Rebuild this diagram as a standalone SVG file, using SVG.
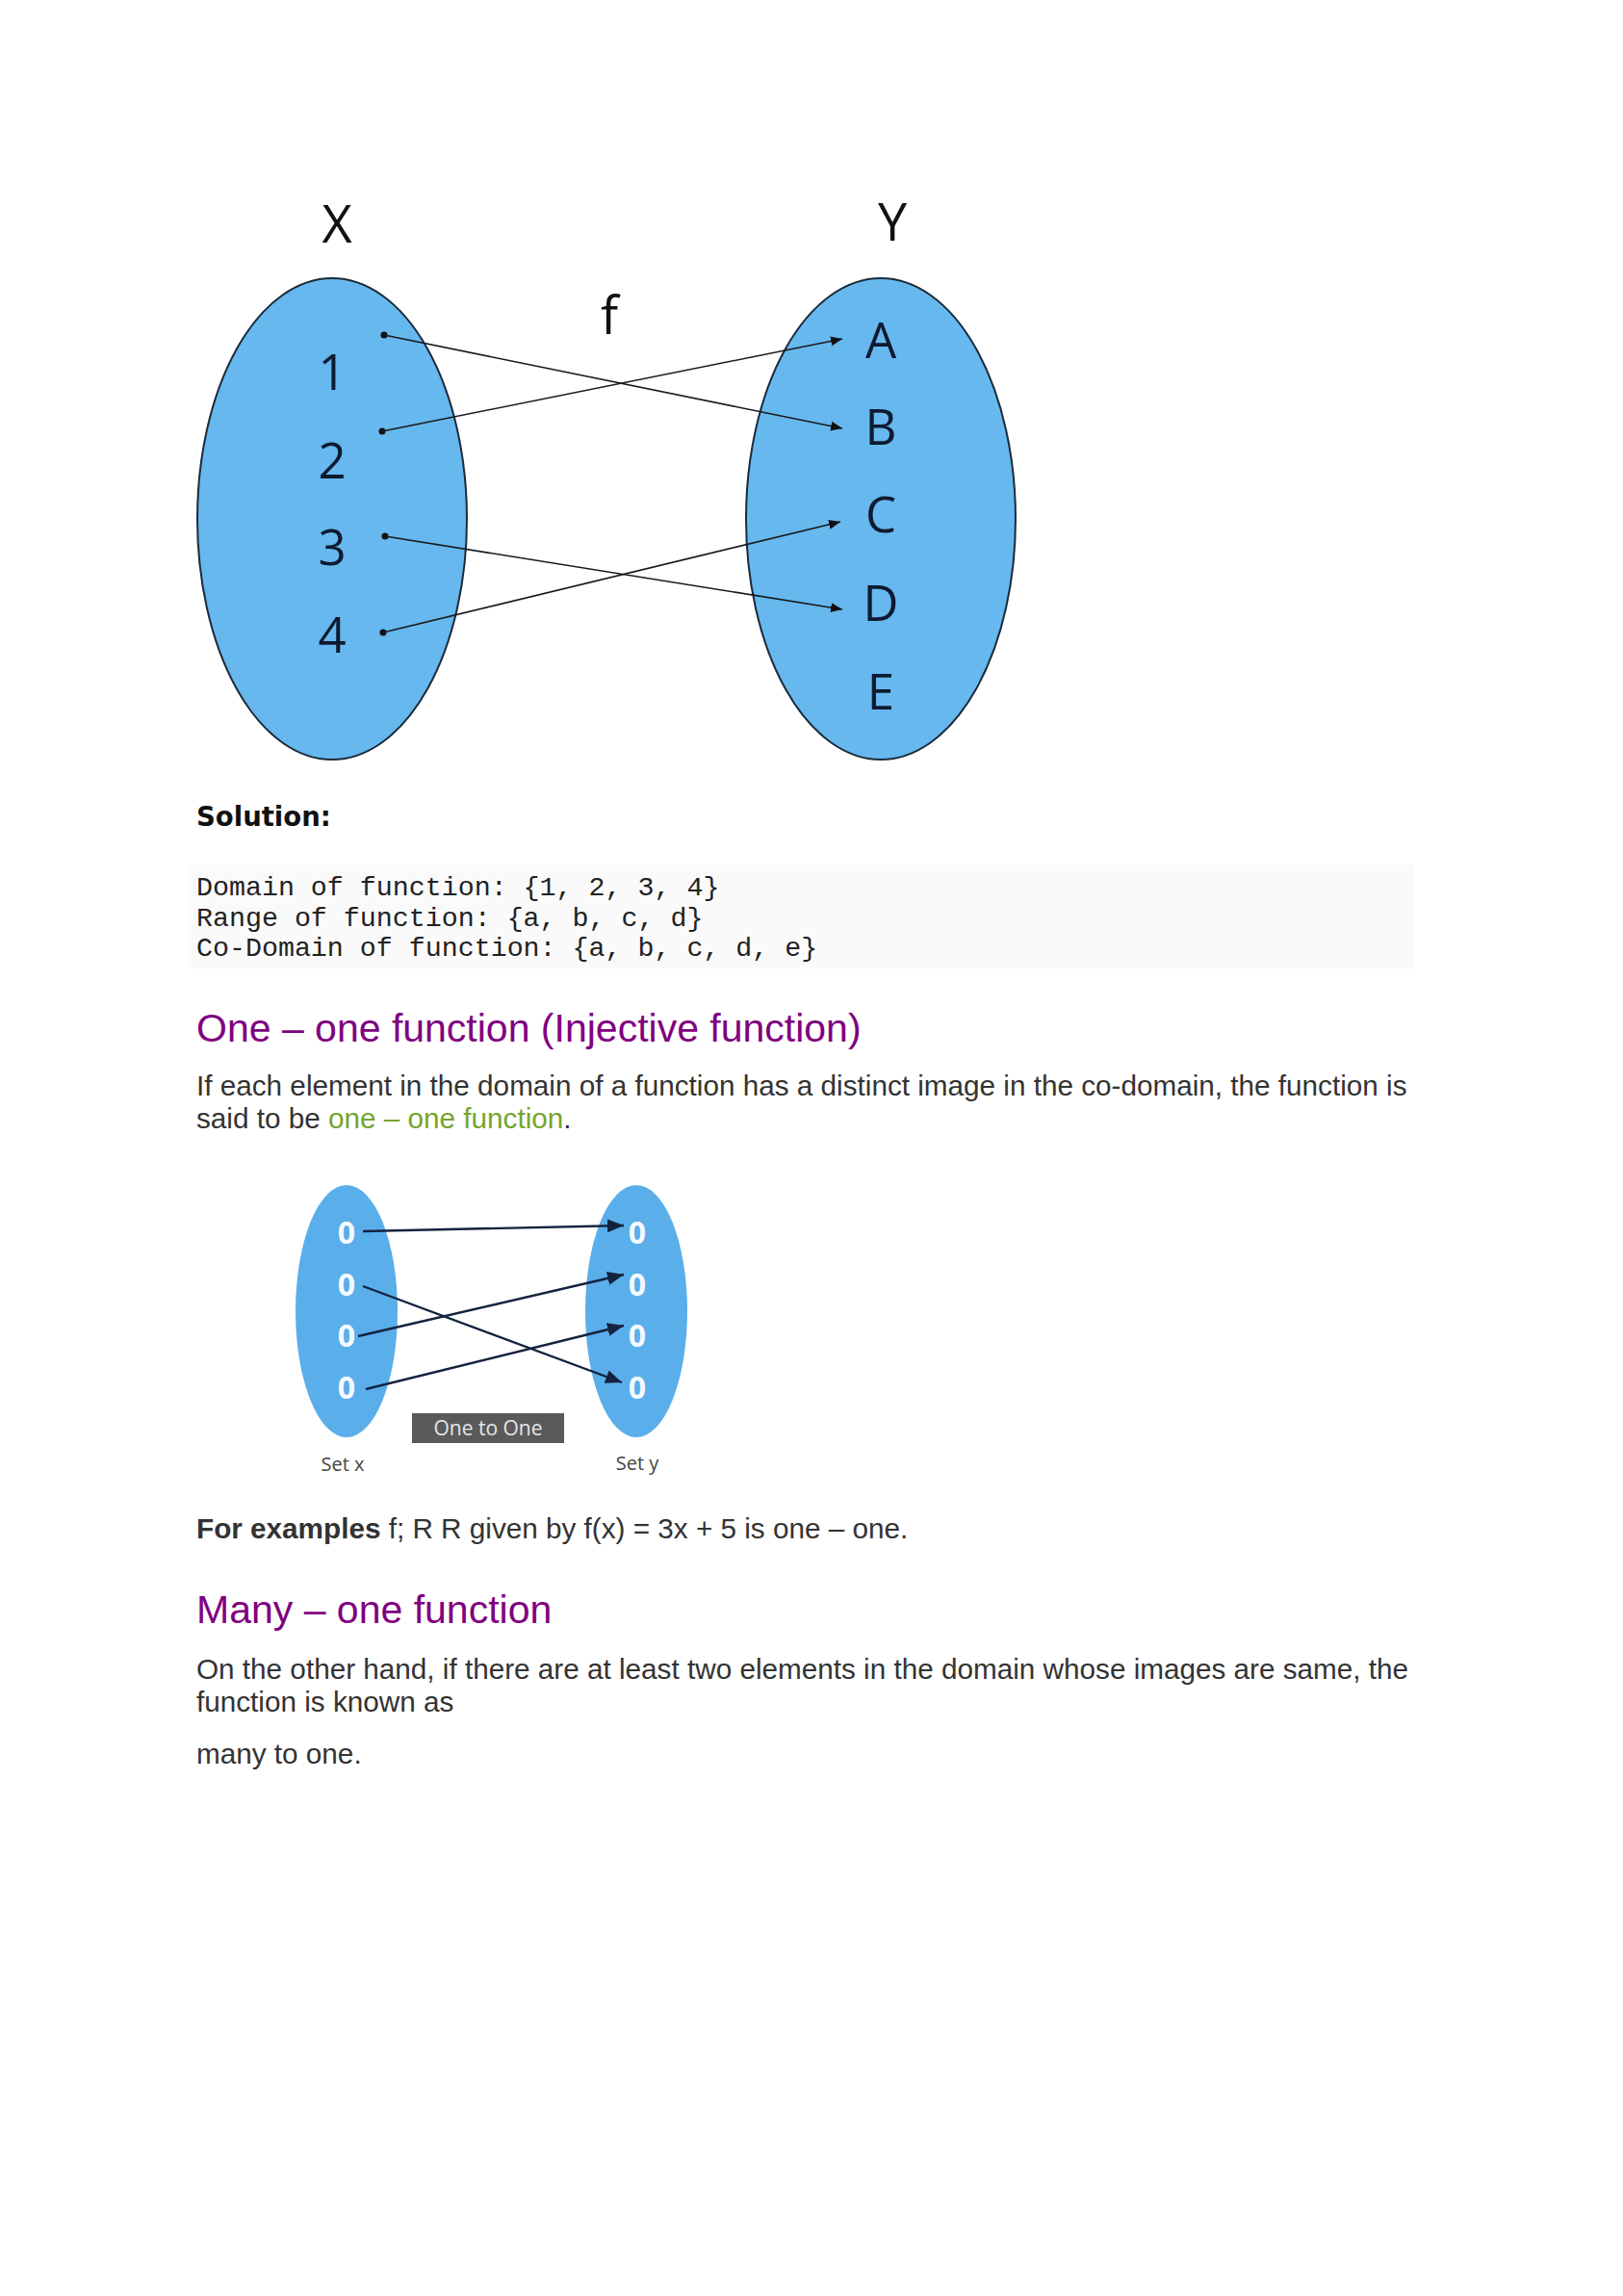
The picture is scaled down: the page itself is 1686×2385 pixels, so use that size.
<svg xmlns="http://www.w3.org/2000/svg" width="1686" height="2385" viewBox="0 0 1686 2385">
<defs>
<style>
.lbl{font-family:"Open Sans","DejaVu Sans",sans-serif;text-anchor:middle}
.big{font-size:54px;fill:#111}
.el{font-size:51px;fill:#0e1a30}
.set{fill:#66b8ef;stroke:#1b2b3a;stroke-width:2}
.set2{fill:#5aaeea;stroke:none}
.edge{stroke:#1a1a1a;stroke-width:1.6;fill:none}
.edge2{stroke:#13233f;stroke-width:2.4;fill:none}
.zero{font-family:"Open Sans","DejaVu Sans",sans-serif;font-weight:bold;font-size:32px;fill:#f4faff;text-anchor:middle}
.body{font-family:"Liberation Sans",Arial,sans-serif;font-size:29.7px;fill:#333}
.head{font-family:"Liberation Sans",Arial,sans-serif;font-size:41px;fill:#800080}
.mono{font-family:"Liberation Mono","Courier New",monospace;font-size:28.3px;fill:#222;white-space:pre}
</style>
<marker id="ah" markerUnits="userSpaceOnUse" markerWidth="14" markerHeight="12" refX="12" refY="5" orient="auto">
<path d="M0,0 L12,5 L0,10 Z" fill="#111"/>
</marker>
<marker id="ah2" markerUnits="userSpaceOnUse" markerWidth="20" markerHeight="16" refX="17" refY="7" orient="auto">
<path d="M0,0 L17,7 L0,14 Z" fill="#13233f"/>
</marker>
</defs>
<rect width="1686" height="2385" fill="#ffffff"/>

<g id="diagram1">
<g id="setX">
<ellipse class="set" cx="345" cy="539" rx="140" ry="250"/>
<text class="lbl big" x="350" y="252">X</text>
<text class="lbl el" x="345" y="405">1</text>
<text class="lbl el" x="345" y="497">2</text>
<text class="lbl el" x="345" y="587">3</text>
<text class="lbl el" x="345" y="678">4</text>
<circle cx="399" cy="348" r="3.5" fill="#111"/>
<circle cx="397" cy="448" r="3.5" fill="#111"/>
<circle cx="400" cy="557" r="3.5" fill="#111"/>
<circle cx="398" cy="657" r="3.5" fill="#111"/>
</g>
<g id="setY">
<ellipse class="set" cx="915" cy="539" rx="140" ry="250"/>
<text class="lbl big" x="927" y="250">Y</text>
<text class="lbl el" x="915" y="372">A</text>
<text class="lbl el" x="915" y="462">B</text>
<text class="lbl el" x="915" y="553">C</text>
<text class="lbl el" x="915" y="645">D</text>
<text class="lbl el" x="915" y="737">E</text>
</g>
<text id="label-f" class="lbl big" x="633" y="347">f</text>
<g id="connectors1">
<line class="edge" x1="399" y1="348" x2="875" y2="445" marker-end="url(#ah)"/>
<line class="edge" x1="397" y1="448" x2="875" y2="352" marker-end="url(#ah)"/>
<line class="edge" x1="400" y1="557" x2="875" y2="633" marker-end="url(#ah)"/>
<line class="edge" x1="398" y1="657" x2="873" y2="542" marker-end="url(#ah)"/>
</g>
</g>

<text x="204" y="858" font-family="'DejaVu Sans',Verdana,sans-serif" font-weight="bold" font-size="27.5" fill="#111">Solution:</text>
<rect x="196" y="898" width="1274" height="108" fill="#fafafa"/>
<text class="mono" x="204" y="930">Domain of function: {1, 2, 3, 4}</text>
<text class="mono" x="204" y="962">Range of function: {a, b, c, d}</text>
<text class="mono" x="204" y="993">Co-Domain of function: {a, b, c, d, e}</text>

<text class="head" x="204" y="1082">One – one function (Injective function)</text>
<text class="body" x="204" y="1138">If each element in the domain of a function has a distinct image in the co-domain, the function is</text>
<text class="body" x="204" y="1172">said to be <tspan fill="#74a52c">one – one function</tspan>.</text>

<g id="diagram2">
<g id="set-x">
<ellipse class="set2" cx="360" cy="1362" rx="53" ry="131"/>
<text class="zero" x="360" y="1292">0</text>
<text class="zero" x="360" y="1346">0</text>
<text class="zero" x="360" y="1399">0</text>
<text class="zero" x="360" y="1453">0</text>
<text x="356" y="1528" font-family="'Open Sans',sans-serif" font-size="20" fill="#444" text-anchor="middle">Set x</text>
</g>
<g id="set-y">
<ellipse class="set2" cx="661" cy="1362" rx="53" ry="131"/>
<text class="zero" x="662" y="1292">0</text>
<text class="zero" x="662" y="1346">0</text>
<text class="zero" x="662" y="1399">0</text>
<text class="zero" x="662" y="1453">0</text>
<text x="662" y="1527" font-family="'Open Sans',sans-serif" font-size="20" fill="#444" text-anchor="middle">Set y</text>
</g>
<g id="caption">
<rect x="428" y="1468" width="158" height="31" fill="#5a5a5a"/>
<text x="507" y="1491" font-family="'Open Sans',sans-serif" font-size="21" fill="#e6e6e6" text-anchor="middle">One to One</text>
</g>
<g id="connectors2">
<line class="edge2" x1="377" y1="1279" x2="648" y2="1273" marker-end="url(#ah2)"/>
<line class="edge2" x1="377" y1="1336" x2="646" y2="1436" marker-end="url(#ah2)"/>
<line class="edge2" x1="372" y1="1388" x2="648" y2="1324" marker-end="url(#ah2)"/>
<line class="edge2" x1="380" y1="1443" x2="648" y2="1377" marker-end="url(#ah2)"/>
</g>
</g>

<text class="body" x="204" y="1598"><tspan font-weight="bold">For examples</tspan> f; R R given by f(x) = 3x + 5 is one – one.</text>
<text class="head" x="204" y="1686">Many – one function</text>
<text class="body" x="204" y="1744">On the other hand, if there are at least two elements in the domain whose images are same, the</text>
<text class="body" x="204" y="1778">function is known as</text>
<text class="body" x="204" y="1832">many to one.</text>
</svg>
